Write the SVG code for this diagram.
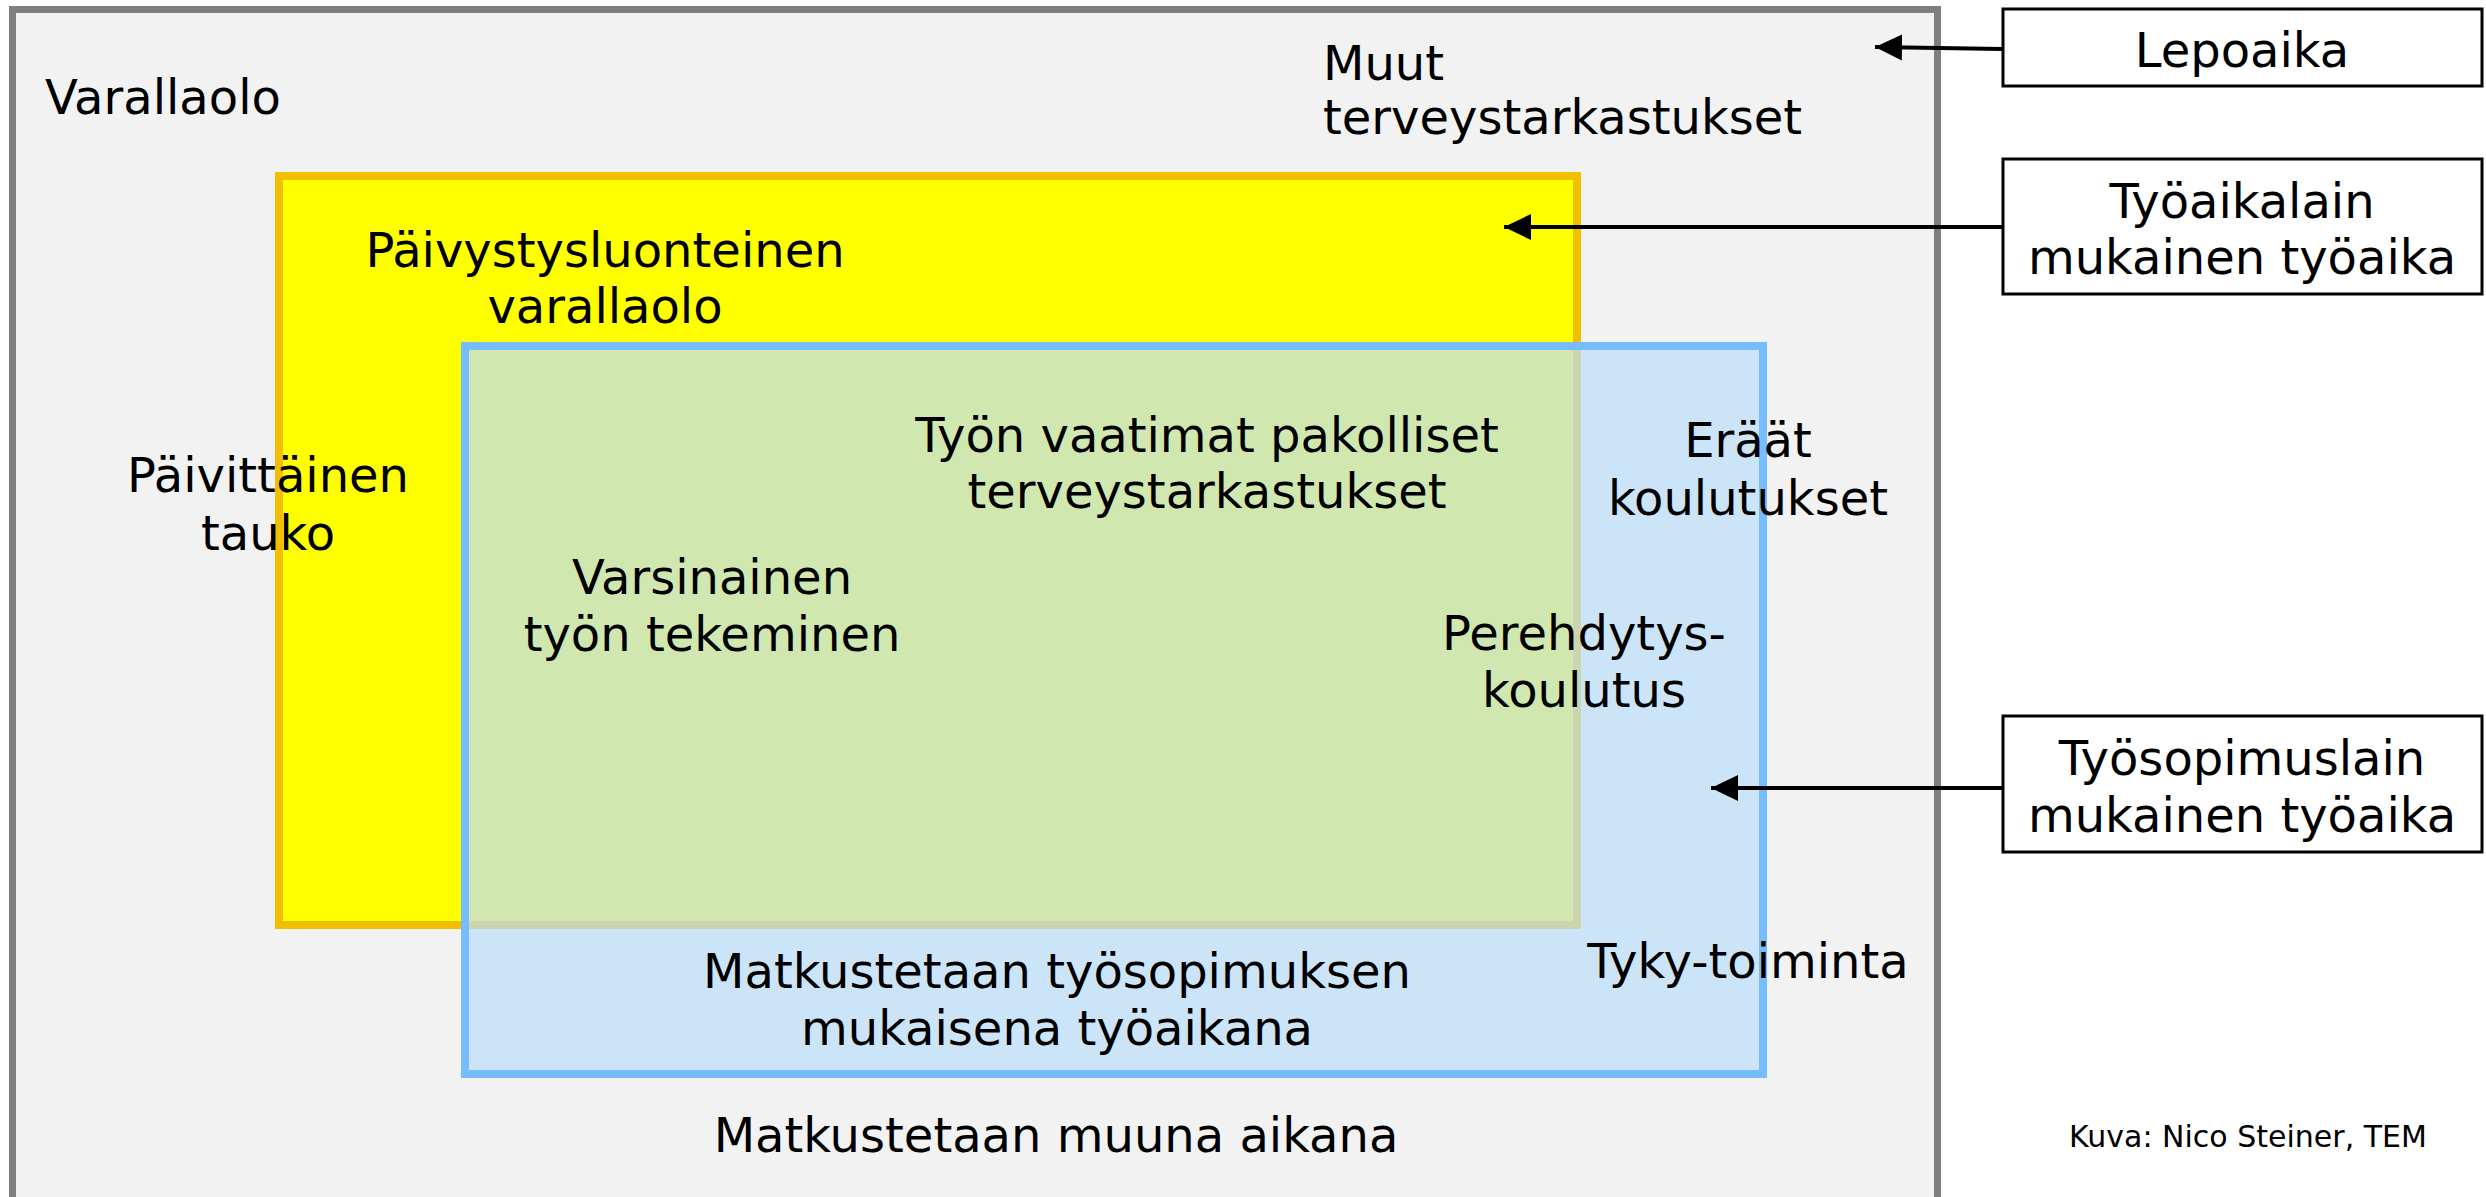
<svg xmlns="http://www.w3.org/2000/svg" width="2486" height="1197" viewBox="0 0 2486 1197">
<style>
text{font-family:"DejaVu Sans","Liberation Sans",sans-serif;font-size:48px;fill:#000}
.c{text-anchor:middle}
.box{fill:#fff;stroke:#000;stroke-width:3}
.conn{stroke:#000;stroke-width:4;fill:none}
</style>
<defs>
<marker id="ah" markerUnits="userSpaceOnUse" markerWidth="28" markerHeight="28" viewBox="0 0 28 28" refX="27" refY="14" orient="auto">
<path d="M0,1 L27,14 L0,27 Z" fill="#000"/>
</marker>
</defs>
<rect width="2486" height="1197" fill="#fff"/>
<g id="lepoaika-area">
<rect x="12.5" y="9.5" width="1925" height="1191" fill="#F2F2F2" stroke="#7F7F7F" stroke-width="7"/>
</g>
<g id="tyoaikalaki-area">
<rect x="279" y="176" width="1298" height="749" fill="#FFFF00" stroke="#F2BF00" stroke-width="8"/>
</g>
<g id="tyosopimuslaki-area">
<rect x="465" y="346" width="1298" height="728" fill="rgb(188,222,251)" fill-opacity="0.7" stroke="#75BDFF" stroke-width="8"/>
</g>
<g id="labels">
<text x="45" y="114">Varallaolo</text>
<text x="1323" y="80">Muut</text>
<text x="1323" y="134">terveystarkastukset</text>
<text class="c" x="605" y="267">Päivystysluonteinen</text>
<text class="c" x="605" y="323">varallaolo</text>
<text class="c" x="268" y="492">Päivittäinen</text>
<text class="c" x="268" y="550">tauko</text>
<text class="c" x="1207" y="452">Työn vaatimat pakolliset</text>
<text class="c" x="1207" y="508">terveystarkastukset</text>
<text class="c" x="712" y="594">Varsinainen</text>
<text class="c" x="712" y="651">työn tekeminen</text>
<text class="c" x="1748" y="457">Eräät</text>
<text class="c" x="1748" y="515">koulutukset</text>
<text class="c" x="1584" y="650">Perehdytys-</text>
<text class="c" x="1584" y="707">koulutus</text>
<text class="c" x="1748" y="978">Tyky-toiminta</text>
<text class="c" x="1057" y="988">Matkustetaan työsopimuksen</text>
<text class="c" x="1057" y="1045">mukaisena työaikana</text>
<text class="c" x="1056" y="1152">Matkustetaan muuna aikana</text>
</g>
<g id="box-lepoaika">
<rect class="box" x="2003" y="9" width="479" height="77"/>
<text class="c" x="2242" y="67">Lepoaika</text>
</g>
<g id="box-tyoaikalain">
<rect class="box" x="2003" y="159" width="479" height="135"/>
<text class="c" x="2242" y="218">Työaikalain</text>
<text class="c" x="2242" y="274">mukainen työaika</text>
</g>
<g id="box-tyosopimuslain">
<rect class="box" x="2003" y="716" width="479" height="136"/>
<text class="c" x="2242" y="775">Työsopimuslain</text>
<text class="c" x="2242" y="832">mukainen työaika</text>
</g>
<g id="credit">
<text class="c" x="2248" y="1147" style="font-size:30px">Kuva: Nico Steiner, TEM</text>
</g>
<g id="connectors">
<line class="conn" x1="2002" y1="49" x2="1875" y2="47" marker-end="url(#ah)"/>
<line class="conn" x1="2002" y1="227" x2="1504" y2="227" marker-end="url(#ah)"/>
<line class="conn" x1="2002" y1="788" x2="1711" y2="788" marker-end="url(#ah)"/>
</g>
</svg>
